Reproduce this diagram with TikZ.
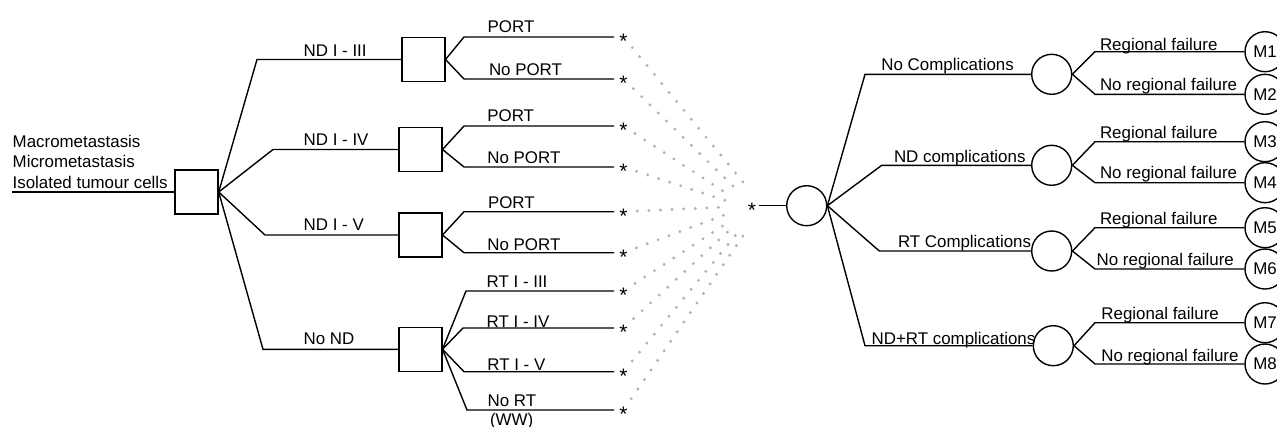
\documentclass[tikz,border=0pt]{standalone}
\usepackage{fontspec}
\setmainfont{Liberation Sans}
\begin{document}
\begin{tikzpicture}[x=1pt,y=-1pt,line width=1.4pt,
  every node/.style={font=\fontsize{16.9}{20}\selectfont, inner sep=0pt},
  lbl/.style={anchor=base west},
  dbox/.style={draw, minimum width=43pt, minimum height=44pt},
  chance/.style={draw, circle, minimum size=40pt},
  tstar/.style={circle, minimum size=6pt, font=\fontsize{21}{24}\selectfont},
  dotline/.style={draw=gray!60, line width=3.2pt, line cap=round,
                  dash pattern=on 0pt off 11.6pt, shorten <=9pt},
]
\fill[white] (0,0) rectangle (1277,426);
\useasboundingbox (0,0) rectangle (1277,426);
\clip (0,0) rectangle (1277,426);

% ---- decision tree: root decision
\node[dbox] (root) at (196.5,192) {};
\coordinate (in) at (12,192);
\draw (in) -- (root.west);
\node[lbl] (tma) at (12,147) {Macrometastasis};
\node[lbl] (tmi) at (12,167) {Micrometastasis};
\node[lbl] (tit) at (12,188) {Isolated tumour cells};

% ---- treatment decisions
\node[dbox] (b1) at (423.3,59.5) {};
\node[dbox] (b2) at (420.3,149.5) {};
\node[dbox] (b3) at (420.3,235) {};
\node[dbox] (b4) at (420.3,349.3) {};
\coordinate (k1) at (257,59.5);
\coordinate (k2) at (273,149.5);
\coordinate (k3) at (265,235);
\coordinate (k4) at (263,349.3);
\foreach \i in {1,...,4} \draw (root.east) -- (k\i) -- (b\i.west);
\node[lbl] (l1) at (303,56.7) {ND I - III};
\node[lbl] (l2) at (303,145) {ND I - IV};
\node[lbl] (l3) at (303,230.7) {ND I - V};
\node[lbl] (l4) at (303,344) {No ND};

% ---- adjuvant options, each ending in a linked subtree marker
\foreach \bx/\i/\ex/\y in {b1/1/464/37, b1/2/464/79, b2/3/464/126, b2/4/464/167,
    b3/5/464/211.7, b3/6/464/252.7, b4/7/466/291, b4/8/463/328,
    b4/9/464/371.7, b4/10/467/410} {
  \coordinate (o\i) at (\ex,\y);
  \coordinate (f\i) at (614,\y);
  \draw (\bx.east) -- (o\i) -- (f\i);
  \node[tstar] (s\i) at (623.5,\y) {\smash{\raisebox{-0.57em}{*}}};
}
\node[lbl] (p1) at (487,32.7) {PORT};
\node[lbl] (p2) at (488.3,75.7) {No PORT};
\node[lbl] (p3) at (486.7,121.7) {PORT};
\node[lbl] (p4) at (486.7,163.3) {No PORT};
\node[lbl] (p5) at (487.3,208.3) {PORT};
\node[lbl] (p6) at (486.7,250) {No PORT};
\node[lbl] (p7) at (486,287.7) {RT I - III};
\node[lbl] (p8) at (486,327.3) {RT I - IV};
\node[lbl] (p9) at (486.7,370) {RT I - V};
\node[lbl] (p10) at (487,406.7) {No RT};
\node[lbl] (p11) at (489.3,425.5) {(WW)};

% ---- links to the shared complication subtree
\foreach \i/\x/\y in {1/743/182, 2/735/188, 3/729/195, 4/727/201, 5/727/207,
    6/727/214, 7/730/221, 8/734/226, 9/739/231, 10/745/233} {
  \coordinate (d\i) at (\x,\y);
  \draw[dotline] (s\i) -- (d\i);
}
\node[circle, minimum size=12pt, font=\fontsize{21}{24}\selectfont] (cs) at (752,205.7) {\smash{\raisebox{-0.57em}{*}}};
\node[chance] (c0) at (806.7,205.7) {};
\draw (cs.east) -- (c0.west);

% ---- complications
\node[chance] (c1) at (1051.7,74.3) {};
\node[chance] (c2) at (1051.7,165.3) {};
\node[chance] (c3) at (1051.7,251) {};
\node[chance] (c4) at (1053.3,345.7) {};
\coordinate (j1) at (865,74.3);
\coordinate (j2) at (881.7,165.3);
\coordinate (j3) at (879.3,251);
\coordinate (j4) at (865,345.7);
\foreach \i in {1,...,4} \draw (c0.east) -- (j\i) -- (c\i.west);
\node[lbl] (n1) at (880.7,70.7) {No Complications};
\node[lbl] (n2) at (893.3,162.7) {ND complications};
\node[lbl] (n3) at (897.3,247.3) {RT Complications};
\node[lbl] (n4) at (871,344) {ND+RT complications};

% ---- regional failure outcomes and Markov states
\foreach \c/\i/\y in {c1/1/51.7, c1/2/94.3, c2/3/141.7, c2/4/182.7,
    c3/5/227.7, c3/6/269, c4/7/322.7, c4/8/364} {
  \node[chance] (m\i) at (1265,\y) {M\i};
  \coordinate (q\i) at (1095,\y);
  \draw (\c.east) -- (q\i) -- (m\i.west);
}
\node[lbl] (r1) at (1099.3,50.7) {Regional failure};
\node[lbl] (r2) at (1099.3,90) {No regional failure};
\node[lbl] (r3) at (1099.3,138.3) {Regional failure};
\node[lbl] (r4) at (1099.3,178.3) {No regional failure};
\node[lbl] (r5) at (1099.3,224) {Regional failure};
\node[lbl] (r6) at (1096,265) {No regional failure};
\node[lbl] (r7) at (1100.7,319.3) {Regional failure};
\node[lbl] (r8) at (1100.7,361.7) {No regional failure};
\end{tikzpicture}
\end{document}
